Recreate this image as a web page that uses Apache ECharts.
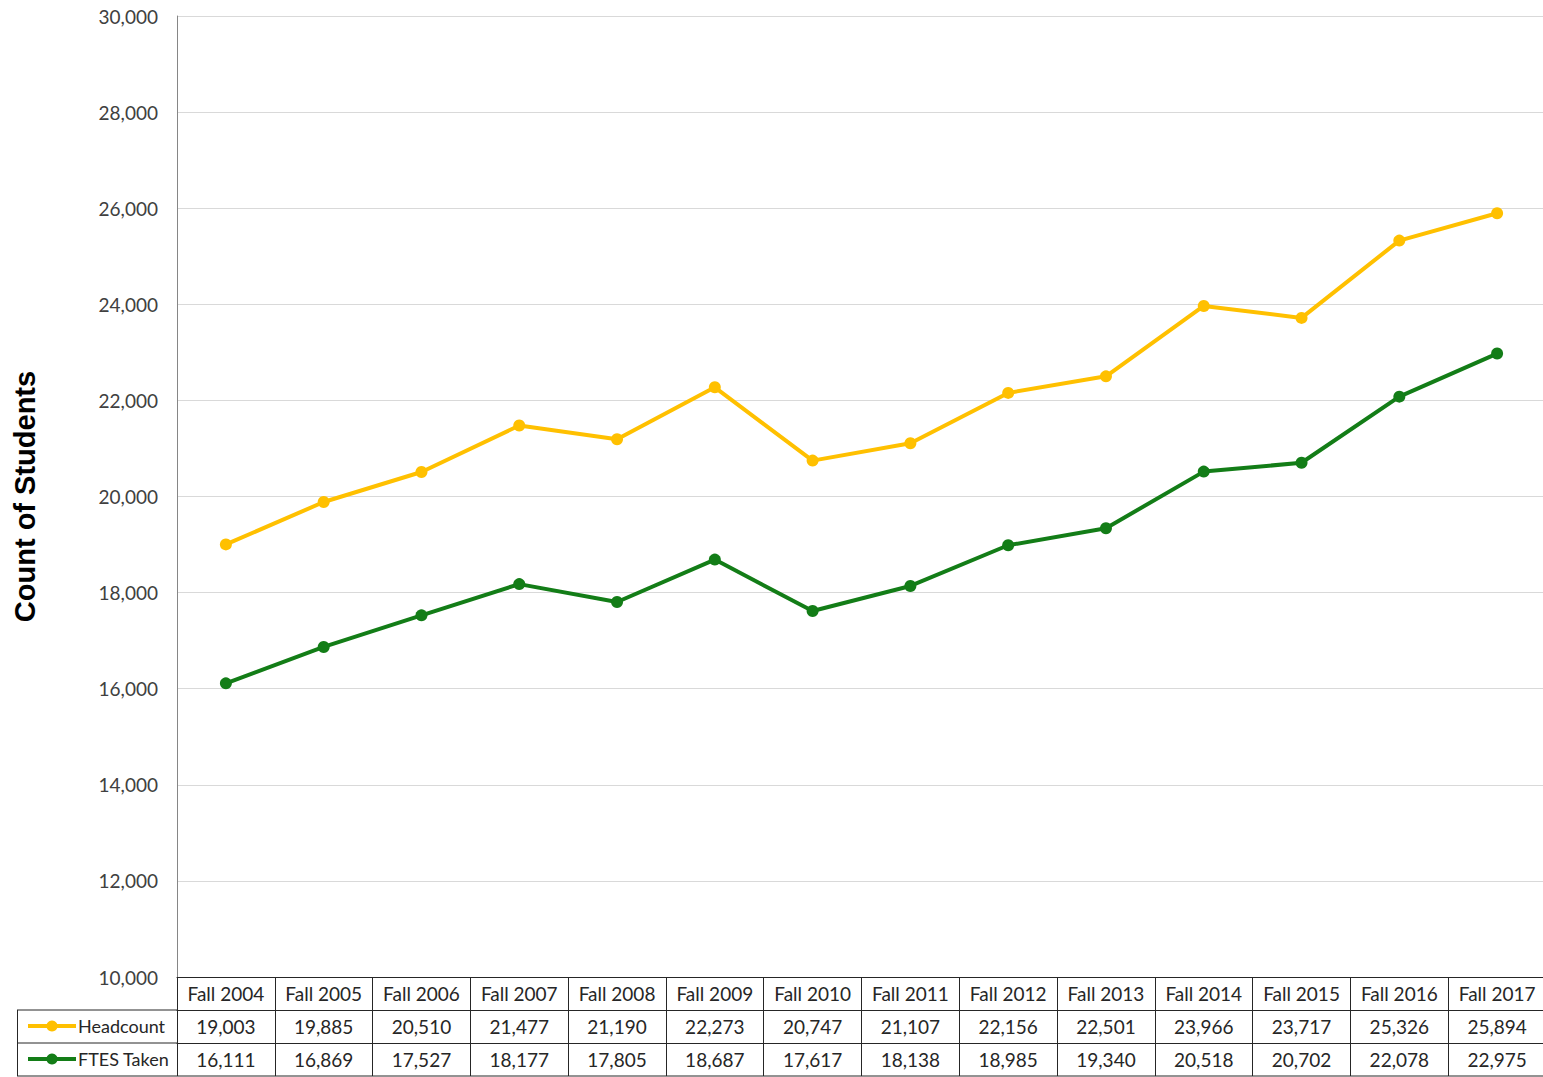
<!DOCTYPE html>
<html>
<head>
<meta charset="utf-8">
<script src="https://cdn.jsdelivr.net/npm/echarts@6/dist/echarts.min.js"></script>
<style>
  html, body { margin: 0; padding: 0; background: #fff; }
  #chart { width: 1543px; height: 1077px; }
</style>
</head>
<body>
<div id="chart"></div>
<script>
// data
const years = ['Fall 2004', 'Fall 2005', 'Fall 2006', 'Fall 2007', 'Fall 2008', 'Fall 2009', 'Fall 2010',
  'Fall 2011', 'Fall 2012', 'Fall 2013', 'Fall 2014', 'Fall 2015', 'Fall 2016', 'Fall 2017'];
const headcount = [19003, 19885, 20510, 21477, 21190, 22273, 20747, 21107, 22156, 22501, 23966, 23717, 25326, 25894];
const ftes = [16111, 16869, 17527, 18177, 17805, 18687, 17617, 18138, 18985, 19340, 20518, 20702, 22078, 22975];

const YELLOW = '#ffc000';
const GREEN = '#137d17';
const FONT = 'Lato';
const fmt = v => v.toLocaleString('en-US');

// x axis used as a table row
function tableRow(data, offset) {
  return {
    type: 'category',
    data: data,
    position: 'bottom',
    offset: offset,
    boundaryGap: true,
    axisLine: { show: true, lineStyle: { color: '#262626', width: 1 } },
    axisTick: { show: true, length: 33, interval: 0, lineStyle: { color: '#262626' } },
    axisLabel: { interval: 0, margin: 7, fontSize: 19, color: '#262626', fontFamily: FONT }
  };
}

// one legend per table row
function rowLegend(name, top) {
  return {
    orient: 'vertical',
    left: 21,
    top: top,
    itemWidth: 48,
    itemHeight: 14,
    lineStyle: { width: 4 },
    textStyle: { fontSize: 18, color: '#262626', fontFamily: FONT, padding: [0, 0, 0, -3] },
    data: [name]
  };
}

var myChart = echarts.init(document.getElementById('chart'), null, { renderer: 'svg' });

var option = {
  animation: false,
  grid: { left: 177, right: -3, top: 16, bottom: 100, outerBoundsMode: 'none' },
  legend: [
    rowLegend('Headcount', 1012),
    rowLegend('FTES Taken', 1045)
  ],
  xAxis: [
    tableRow(years, 0),
    tableRow(headcount.map(fmt), 33),
    tableRow(ftes.map(fmt), 66)
  ],
  yAxis: {
    type: 'value',
    min: 10000,
    max: 30000,
    interval: 2000,
    name: 'Count of Students',
    nameLocation: 'middle',
    nameGap: 138,
    nameTextStyle: { fontSize: 29, fontWeight: 'bold', color: '#000', fontFamily: 'Liberation Sans' },
    axisLine: { show: true, lineStyle: { color: '#868686' } },
    axisTick: { show: false },
    axisLabel: { fontSize: 19, color: '#404040', fontFamily: FONT, margin: 19, formatter: v => fmt(v) },
    splitLine: { lineStyle: { color: '#d9d9d9' } }
  },
  graphic: [
    // legend column borders of the data table
    { type: 'line', shape: { x1: 17, y1: 1010, x2: 177, y2: 1010 }, style: { stroke: '#262626', lineWidth: 1 } },
    { type: 'line', shape: { x1: 17, y1: 1043, x2: 177, y2: 1043 }, style: { stroke: '#262626', lineWidth: 1 } },
    { type: 'line', shape: { x1: 17, y1: 1076, x2: 1543, y2: 1076 }, style: { stroke: '#262626', lineWidth: 1 } },
    { type: 'line', shape: { x1: 17.5, y1: 1010, x2: 17.5, y2: 1076 }, style: { stroke: '#262626', lineWidth: 1 } }
  ],
  series: [
    {
      name: 'Headcount',
      type: 'line',
      data: headcount,
      color: YELLOW,
      symbol: 'circle',
      symbolSize: 12,
      lineStyle: { width: 4 }
    },
    {
      name: 'FTES Taken',
      type: 'line',
      data: ftes,
      color: GREEN,
      symbol: 'circle',
      symbolSize: 12,
      lineStyle: { width: 4 }
    }
  ]
};

myChart.setOption(option);
</script>
</body>
</html>
